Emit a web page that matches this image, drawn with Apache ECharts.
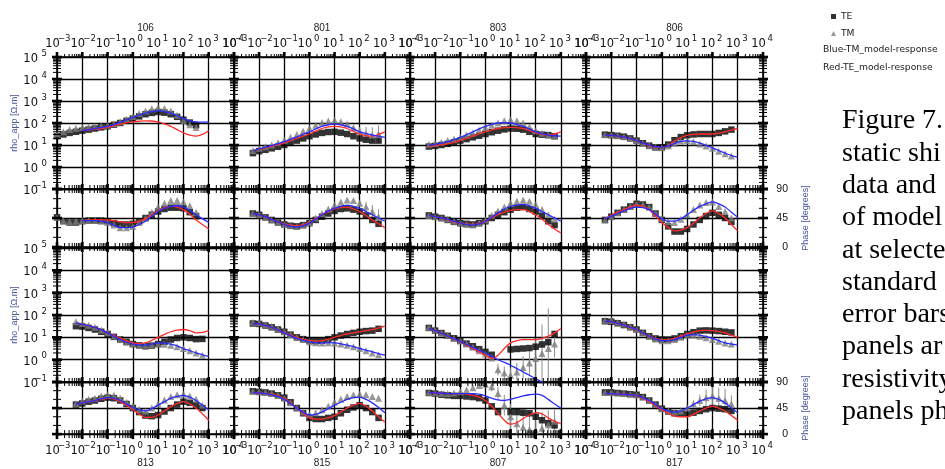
<!DOCTYPE html>
<html><head><meta charset="utf-8">
<script src="https://cdn.jsdelivr.net/npm/echarts@6/dist/echarts.min.js"></script>
<style>html,body{margin:0;padding:0;background:#fff}#c{width:945px;height:469px}</style>
</head><body><div id="c"></div>
<script>
// ---- period grids (log10 of period in s) ----
const PER_106 = [-3,-2.75,-2.5,-2.25,-2,-1.75,-1.5,-1.25,-1,-0.75,-0.5,-0.25,0,0.25,0.5,0.75,1,1.25,1.5,1.75,2,2.25,2.5];
const PER = [-2.25,-2,-1.75,-1.5,-1.25,-1,-0.75,-0.5,-0.25,0,0.25,0.5,0.75,1,1.25,1.5,1.75,2,2.25,2.5,2.75];
const MOD_106 = [-2,-1.75,-1.5,-1.25,-1,-0.75,-0.5,-0.25,0,0.25,0.5,0.75,1,1.25,1.5,1.75,2,2.25,2.5,2.75,3];
const MOD = [-2.25,-2,-1.75,-1.5,-1.25,-1,-0.75,-0.5,-0.25,0,0.25,0.5,0.75,1,1.25,1.5,1.75,2,2.25,2.5,2.75,3];

const stationsTop = ['106','801','803','806'];
const stationsBottom = ['813','815','807','817'];
const xTickValues = [-3,-2,-1,0,1,2,3,4];      // 10^n period labels
const rhoTickValues = [-1,0,1,2,3,4,5];        // 10^n ohm.m labels
const phaseTickValues = [0,45,90];
const captionLines = ['Figure 7.','static shi','data and','of model','at selecte','standard','error bars','panels ar','resistivity','panels ph'];

// ---- station 106 (log10 rho, phase deg) ----
const rhoTE_106 = [1.40,1.48,1.55,1.60,1.65,1.70,1.75,1.80,1.85,1.92,2.00,2.10,2.20,2.30,2.40,2.46,2.50,2.47,2.40,2.28,2.15,2.02,1.90];
const rhoTM_106 = [1.50,1.60,1.70,1.76,1.80,1.83,1.85,1.87,1.90,1.96,2.05,2.17,2.30,2.43,2.55,2.65,2.70,2.66,2.55,2.35,2.10,1.92,1.80];
const phTE_106 = [46,40,38,38,40,41,41,41,40,37,35,35,36,40,45,50,55,59,61,61,60,54,48];
const phTM_106 = [46,41,39,40,41,41,41,40,38,34,30,30,32,38,45,54,62,68,72,72,70,64,54];
const blueRho_106 = [1.65,1.70,1.75,1.80,1.85,1.93,2.03,2.14,2.25,2.36,2.45,2.52,2.55,2.52,2.45,2.33,2.20,2.10,2.05,2.04,2.05];
const redRho_106 = [1.65,1.69,1.72,1.76,1.80,1.88,1.95,2.01,2.05,2.08,2.10,2.09,2.05,1.96,1.85,1.70,1.55,1.45,1.40,1.48,1.65];
const bluePh_106 = [41,41,41,40,38,34,30,30,31,35,40,48,55,60,63,64,62,57,50,44,38];
const redPh_106 = [41,42,42,42,42,41,39,38,38,40,44,50,56,61,63,62,58,51,42,35,28];

// ---- station 801 ----
const rhoTE_801 = [0.63,0.72,0.78,0.85,0.92,1.00,1.10,1.20,1.30,1.40,1.48,1.55,1.59,1.60,1.56,1.50,1.40,1.30,1.24,1.20,1.20];
const rhoTM_801 = [0.75,0.85,0.92,1.00,1.10,1.22,1.35,1.48,1.62,1.76,1.90,2.02,2.09,2.12,2.06,1.95,1.78,1.62,1.52,1.46,1.50];
const errRhoTM_801 = [0,0,0,0,0,0,0,0,0,0,0,0,0,0,0,0,0.1,0.2,0.3,0.35,0.4];
const phTE_801 = [52,50,46,42,38,35,33,32,34,37,42,47,52,56,59,60,58,55,49,42,36];
const phTM_801 = [52,50,46,42,38,35,33,32,34,38,45,52,59,65,70,73,72,68,62,55,47];
const errPhTM_801 = [0,0,0,0,0,0,0,0,0,0,0,0,0,0,0,0,0,4,8,10,12];
const blueRho_801 = [0.74,0.82,0.90,0.98,1.06,1.15,1.26,1.37,1.49,1.60,1.73,1.85,1.92,1.95,1.92,1.85,1.73,1.60,1.52,1.45,1.40,1.35];
const redRho_801 = [0.74,0.80,0.87,0.95,1.02,1.10,1.20,1.30,1.40,1.50,1.63,1.75,1.82,1.85,1.82,1.75,1.62,1.50,1.43,1.40,1.48,1.60];
const bluePh_801 = [52,50,47,43,39,35,32,31,33,37,43,50,56,60,63,65,63,60,55,50,45,40];
const redPh_801 = [52,50,47,43,39,36,34,33,35,38,44,50,55,59,61,62,59,55,49,42,36,30];

// ---- station 803 ----
const rhoTE_803 = [0.93,0.96,1.00,1.05,1.12,1.20,1.27,1.35,1.42,1.50,1.58,1.65,1.71,1.75,1.74,1.70,1.60,1.50,1.47,1.45,1.40];
const rhoTM_803 = [1.03,1.07,1.13,1.20,1.27,1.35,1.45,1.55,1.67,1.80,1.90,2.00,2.10,2.15,2.10,2.00,1.83,1.65,1.53,1.45,1.40];
const phTE_803 = [49,47,45,42,39,37,36,35,37,40,45,50,54,58,61,62,59,55,48,40,34];
const phTM_803 = [49,47,45,43,40,37,35,34,37,42,49,56,62,68,71,73,71,66,58,50,43];
const blueRho_803 = [0.98,1.03,1.09,1.15,1.25,1.35,1.47,1.60,1.73,1.85,1.94,2.00,2.02,2.00,1.94,1.85,1.73,1.60,1.52,1.45,1.42,1.40];
const redRho_803 = [0.93,0.97,1.01,1.05,1.12,1.20,1.30,1.40,1.50,1.60,1.68,1.75,1.79,1.80,1.79,1.75,1.66,1.55,1.49,1.45,1.50,1.60];
const bluePh_803 = [49,47,45,43,40,37,35,34,36,40,46,53,59,63,65,66,64,60,55,50,45,40];
const redPh_803 = [49,47,45,42,39,37,36,35,37,40,45,50,54,57,58,58,55,50,43,35,28,22];

// ---- station 806 ----
const rhoTE_806 = [1.47,1.45,1.42,1.38,1.30,1.20,1.08,0.97,0.89,0.90,1.02,1.22,1.36,1.44,1.48,1.50,1.50,1.50,1.55,1.62,1.70];
const rhoTM_806 = [1.47,1.45,1.42,1.38,1.30,1.20,1.08,0.97,0.90,0.88,0.95,1.08,1.18,1.20,1.15,1.05,0.95,0.85,0.72,0.60,0.50];
const phTE_806 = [42,47,53,58,63,67,66,62,52,42,32,24,24,28,35,42,48,53,50,45,39];
const phTM_806 = [42,47,53,58,63,67,66,62,53,44,39,38,43,50,58,65,69,70,63,55,45];
const blueRho_806 = [1.45,1.44,1.41,1.37,1.30,1.20,1.09,0.99,0.92,0.90,0.96,1.07,1.16,1.19,1.16,1.08,0.98,0.87,0.75,0.63,0.52,0.45];
const redRho_806 = [1.45,1.44,1.41,1.37,1.30,1.20,1.08,0.97,0.90,0.89,0.98,1.18,1.34,1.44,1.48,1.50,1.50,1.50,1.54,1.60,1.68,1.75];
const bluePh_806 = [44,48,52,56,60,62,61,58,51,44,40,40,44,50,57,63,67,70,67,62,54,46];
const redPh_806 = [44,49,54,58,62,65,63,58,48,38,30,25,26,30,37,45,52,56,52,45,35,25];

// ---- station 813 ----
const rhoTE_813 = [1.50,1.48,1.42,1.35,1.25,1.15,1.02,0.90,0.80,0.70,0.64,0.60,0.63,0.70,0.80,0.90,0.97,1.00,0.97,0.92,0.93];
const rhoTM_813 = [1.70,1.62,1.54,1.45,1.33,1.20,1.05,0.90,0.78,0.70,0.66,0.65,0.67,0.70,0.69,0.65,0.58,0.50,0.40,0.30,0.20];
const phTE_813 = [51,53,56,58,61,63,62,58,52,45,38,32,31,33,39,45,51,56,54,50,45];
const phTM_813 = [53,57,60,62,66,68,67,62,55,48,43,40,45,52,59,65,68,69,66,60,50];
const blueRho_813 = [1.66,1.58,1.52,1.45,1.33,1.20,1.05,0.90,0.78,0.70,0.66,0.65,0.70,0.75,0.74,0.70,0.62,0.50,0.40,0.30,0.22,0.15];
const redRho_813 = [1.66,1.58,1.52,1.45,1.33,1.20,1.08,0.95,0.84,0.75,0.72,0.75,0.86,1.00,1.13,1.25,1.32,1.35,1.30,1.20,1.22,1.30];
const bluePh_813 = [52,54,56,58,61,63,62,58,52,46,42,40,44,50,56,62,65,67,64,58,50,42];
const redPh_813 = [52,54,56,58,60,62,61,56,50,42,35,29,29,33,40,47,53,56,52,45,35,24];

// ---- station 815 ----
const rhoTE_815 = [1.62,1.60,1.53,1.45,1.35,1.25,1.12,1.00,0.92,0.85,0.83,0.85,0.92,1.00,1.08,1.15,1.20,1.25,1.28,1.30,1.38];
const rhoTM_815 = [1.67,1.65,1.58,1.50,1.38,1.25,1.12,1.00,0.90,0.80,0.76,0.75,0.76,0.75,0.70,0.65,0.58,0.50,0.40,0.30,0.22];
const phTE_815 = [74,73,72,70,67,63,55,45,36,28,26,26,28,30,36,42,46,50,45,38,28];
const phTM_815 = [74,73,72,70,67,62,54,45,38,34,37,42,48,55,60,65,68,69,68,65,62];
const blueRho_815 = [1.62,1.60,1.53,1.45,1.33,1.20,1.07,0.95,0.87,0.80,0.76,0.75,0.76,0.75,0.71,0.65,0.58,0.50,0.43,0.35,0.27,0.20];
const redRho_815 = [1.62,1.60,1.53,1.45,1.34,1.22,1.11,1.00,0.92,0.85,0.83,0.85,0.92,1.00,1.08,1.15,1.20,1.25,1.30,1.35,1.42,1.50];
const bluePh_815 = [72,71,70,68,65,60,53,45,38,33,34,38,44,50,55,60,63,64,60,54,46,37];
const redPh_815 = [72,71,70,69,66,62,54,45,36,28,26,26,28,32,38,45,50,53,48,40,30,21];

// ---- station 807 ----
const rhoTE_807 = [1.42,1.30,1.19,1.07,0.96,0.85,0.72,0.60,0.47,0.35,0.22,null,null,0.46,0.48,0.50,0.52,0.58,0.68,0.78,1.15];
const rhoTM_807 = [1.45,1.32,1.20,1.08,0.96,0.84,0.70,0.56,0.40,0.25,0.08,-0.45,-0.60,-0.70,-0.55,-0.35,-0.15,0.05,0.28,0.50,0.70];
const errRhoTM_807 = [0,0,0,0,0,0,0,0,0,0,0,0.25,0.3,0.35,0.4,0.5,0.6,0.9,1.3,1.8,0.6];
const phTE_807 = [71,70,68,67,66,66,65,64,62,58,48,38,null,38,38,37,36,30,24,19,15];
const phTM_807 = [72,71,70,70,71,73,76,80,84,86,82,70,50,30,18,12,8,6,10,16,22];
const errPhTM_807 = [0,0,0,0,0,0,0,0,0,0,8,12,18,22,25,28,30,30,28,25,20];
const blueRho_807 = [1.40,1.30,1.18,1.06,0.94,0.82,0.68,0.55,0.42,0.30,0.15,0.00,-0.12,-0.25,-0.40,-0.55,-0.70,-0.85,-1.00,-1.15,-1.30,-1.45];
const redRho_807 = [1.40,1.30,1.18,1.05,0.92,0.80,0.65,0.50,0.35,0.20,0.05,0.20,0.50,0.75,0.85,0.90,0.90,0.90,0.95,1.05,1.20,1.40];
const bluePh_807 = [72,71,71,70,70,70,70,70,69,66,62,59,58,60,63,66,68,69,67,60,52,45];
const redPh_807 = [72,71,71,70,70,70,69,67,64,58,48,36,24,17,20,27,33,37,35,28,22,18];

// ---- station 817 ----
const rhoTE_817 = [1.72,1.70,1.63,1.55,1.45,1.35,1.20,1.05,0.95,0.90,0.90,0.95,1.05,1.15,1.23,1.30,1.31,1.30,1.28,1.25,1.22];
const rhoTM_817 = [1.77,1.75,1.68,1.60,1.48,1.35,1.20,1.05,0.93,0.85,0.85,0.90,1.00,1.10,1.10,1.05,0.98,0.90,0.82,0.75,0.70];
const phTE_817 = [72,72,71,70,69,68,64,58,51,44,39,36,35,35,37,40,43,45,44,43,40];
const phTM_817 = [72,72,71,70,69,68,64,58,51,44,40,38,40,45,52,58,63,66,62,58,52];
const errPhTM_817 = [0,0,0,0,0,0,0,0,0,0,0,0,0,0,6,10,14,16,18,20,15];
const blueRho_817 = [1.72,1.70,1.63,1.55,1.45,1.35,1.20,1.05,0.93,0.85,0.85,0.90,1.00,1.10,1.12,1.10,1.03,0.95,0.85,0.75,0.70,0.65];
const redRho_817 = [1.72,1.70,1.63,1.55,1.44,1.33,1.19,1.05,0.95,0.88,0.89,0.95,1.05,1.15,1.24,1.30,1.31,1.30,1.26,1.20,1.10,1.00];
const bluePh_817 = [70,70,69,69,68,67,63,58,51,44,40,38,40,45,51,57,61,63,60,54,45,37];
const redPh_817 = [70,70,69,69,68,66,62,56,49,42,36,31,30,30,34,40,45,48,45,40,32,24];

// ---- table for the library ----
const stations = [
  {row:0,col:0,per:PER_106,mod:MOD_106,rTE:rhoTE_106,rTM:rhoTM_106,rB:blueRho_106,rR:redRho_106,pTE:phTE_106,pTM:phTM_106,pB:bluePh_106,pR:redPh_106},
  {row:0,col:1,per:PER,mod:MOD,rTE:rhoTE_801,rTM:rhoTM_801,rB:blueRho_801,rR:redRho_801,pTE:phTE_801,pTM:phTM_801,pB:bluePh_801,pR:redPh_801,eR:errRhoTM_801,eP:errPhTM_801},
  {row:0,col:2,per:PER,mod:MOD,rTE:rhoTE_803,rTM:rhoTM_803,rB:blueRho_803,rR:redRho_803,pTE:phTE_803,pTM:phTM_803,pB:bluePh_803,pR:redPh_803},
  {row:0,col:3,per:PER,mod:MOD,rTE:rhoTE_806,rTM:rhoTM_806,rB:blueRho_806,rR:redRho_806,pTE:phTE_806,pTM:phTM_806,pB:bluePh_806,pR:redPh_806},
  {row:1,col:0,per:PER,mod:MOD,rTE:rhoTE_813,rTM:rhoTM_813,rB:blueRho_813,rR:redRho_813,pTE:phTE_813,pTM:phTM_813,pB:bluePh_813,pR:redPh_813},
  {row:1,col:1,per:PER,mod:MOD,rTE:rhoTE_815,rTM:rhoTM_815,rB:blueRho_815,rR:redRho_815,pTE:phTE_815,pTM:phTM_815,pB:bluePh_815,pR:redPh_815},
  {row:1,col:2,per:PER,mod:MOD,rTE:rhoTE_807,rTM:rhoTM_807,rB:blueRho_807,rR:redRho_807,pTE:phTE_807,pTM:phTM_807,pB:bluePh_807,pR:redPh_807,eR:errRhoTM_807,eP:errPhTM_807},
  {row:1,col:3,per:PER,mod:MOD,rTE:rhoTE_817,rTM:rhoTM_817,rB:blueRho_817,rR:redRho_817,pTE:phTE_817,pTM:phTM_817,pB:bluePh_817,pR:redPh_817,eP:errPhTM_817}
];

// ---- layout ----
const colLeft = [57, 234, 410, 586];
const colWidth = [177, 176, 176, 177];
const rowsDef = [
  {top:57, h:132, kind:'rho'},
  {top:189, h:58, kind:'ph'},
  {top:248, h:134, kind:'rho'},
  {top:382, h:56, kind:'ph'}
];
const DEJ = 'DejaVu Sans', SANS = 'Liberation Sans';
const titleColor = '#46569a';
function sup(v){ v = Math.round(v); return '{b|10}{s|' + (v < 0 ? '\u2212' + (-v) : String(v)) + '}'; }
// explicit token widths keep the label boxes narrower than one decade so none is dropped
const supRich = {
  b:{fontFamily:DEJ, fontSize:11.5, color:'#111', lineHeight:16, verticalAlign:'bottom', width:14.5},
  s:{fontFamily:DEJ, fontSize:8.5, color:'#111', lineHeight:8, verticalAlign:'top', width:9}
};

// log-scale tick positions (axis decoration)
const xMajor = xTickValues.slice();
const xMinor = []; for (let d = -3; d < 4; d++) for (let k = 2; k <= 9; k++) xMinor.push(d + Math.log10(k));
const rMajor = rhoTickValues.slice();
const rMinor = []; for (let d = -1; d < 5; d++) for (let k = 2; k <= 9; k++) rMinor.push(d + Math.log10(k));
const pMajor = phaseTickValues.slice();
const pMinor = [15,30,60,75];

const grids = [], xAxes = [], yAxes = [], series = [];
rowsDef.forEach((R, r) => {
  colLeft.forEach((L, c) => {
    const g = r * 4 + c;
    grids.push({left:L, top:R.top, width:colWidth[c], height:R.h, show:true, borderColor:'#000', borderWidth:1.6, backgroundColor:'transparent', containLabel:false});
    const showX = (r === 0 || r === 3);
    xAxes.push({
      gridIndex:g, type:'value', min:-3, max:4, interval:1,
      position: (R.kind === 'rho') ? 'top' : 'bottom',
      axisLine:{show:false}, axisTick:{show:false},
      splitLine:{show:true, lineStyle:{color:'#000', width:1.3}},
      axisLabel:{show:showX, interval:0, formatter:sup, rich:supRich, margin:7, showMinLabel:true, showMaxLabel:true, hideOverlap:false},
      name: r === 0 ? stationsTop[c] : (r === 3 ? stationsBottom[c] : ''),
      nameLocation:'middle', nameGap: r === 0 ? 22 : 21,
      nameTextStyle:{fontFamily:SANS, fontSize:10, color:'#222'}
    });
    if (R.kind === 'rho') {
      yAxes.push({
        gridIndex:g, type:'value', min:-1, max:5, interval:1, position:'left',
        axisLine:{show:false}, axisTick:{show:false},
        splitLine:{show:true, lineStyle:{color:'#000', width:1.3}},
        axisLabel:{show:c === 0, interval:0, formatter:sup, rich:supRich, margin:10, showMinLabel:true, showMaxLabel:true, hideOverlap:false},
        name: c === 0 ? 'rho_app [\u03A9.m]' : '', nameLocation:'middle', nameRotate:90, nameGap:38,
        nameTextStyle:{fontFamily:SANS, fontSize:9, color:titleColor}
      });
    } else {
      yAxes.push({
        gridIndex:g, type:'value', min:0, max:90, interval:45, position: c === 3 ? 'right' : 'left',
        axisLine:{show:false}, axisTick:{show:false},
        splitLine:{show:true, lineStyle:{color:'#000', width:1.3}},
        axisLabel:{show:c === 3, interval:0, align:'right', margin:25, fontFamily:SANS, fontSize:10.5, color:'#111', showMinLabel:true, showMaxLabel:true, hideOverlap:false},
        name: c === 3 ? 'Phase [degrees]' : '', nameLocation:'middle', nameRotate:90, nameGap:38,
        nameTextStyle:{fontFamily:SANS, fontSize:9, color:titleColor}
      });
    }
    // tick marks series: [edgeCode, value, major]
    // edge codes: 0 top both, 1 bottom both, 2 left both, 3 right both, 4 top outward
    const items = [];
    const yMaj = R.kind === 'rho' ? rMajor : pMajor, yMin = R.kind === 'rho' ? rMinor : pMinor;
    const addX = (code) => { xMajor.forEach(v => items.push([code, v, 1])); xMinor.forEach(v => items.push([code, v, 0])); };
    const addY = (code) => { yMaj.forEach(v => items.push([code, v, 1])); yMin.forEach(v => items.push([code, v, 0])); };
    if (r === 0) addX(4);
    if (R.kind === 'ph') { addX(0); addX(1); }
    addY(2);
    if (c === 3) addY(3);
    const yLo = R.kind === 'rho' ? -1 : 0, yHi = R.kind === 'rho' ? 5 : 90;
    series.push({
      type:'custom', name:'ticks', xAxisIndex:g, yAxisIndex:g, silent:true, z:6, clip:false,
      data: items,
      renderItem: function (params, api) {
        const code = api.value(0), v = api.value(1), major = api.value(2);
        const Lb = major ? 5 : 4;
        let p, shape;
        if (code === 0 || code === 4) { p = api.coord([v, yHi]); }
        else if (code === 1) { p = api.coord([v, yLo]); }
        else if (code === 2) { p = api.coord([-3, v]); }
        else { p = api.coord([4, v]); }
        if (code === 4) shape = {x1:p[0], y1:p[1] - (major ? 5 : 3), x2:p[0], y2:p[1]};
        else if (code <= 1) shape = {x1:p[0], y1:p[1] - Lb, x2:p[0], y2:p[1] + Lb};
        else shape = {x1:p[0] - Lb, y1:p[1], x2:p[0] + Lb, y2:p[1]};
        return {type:'line', shape:shape, style:{stroke:'#000', lineWidth: major ? 2.6 : 1}};
      }
    });
  });
});

function pairs(per, vals){ const out = []; per.forEach((p, i) => { if (vals[i] !== null && vals[i] !== undefined) out.push([p, vals[i]]); }); return out; }
function errItems(per, vals, errs){ const out = []; per.forEach((p, i) => { if (errs[i] > 0 && vals[i] !== null) out.push([p, vals[i], errs[i]]); }); return out; }
const errRender = function (params, api) {
  const x = api.value(0), v = api.value(1), e = api.value(2);
  const a = api.coord([x, v + e]), b = api.coord([x, v - e]);
  return {type:'line', shape:{x1:a[0], y1:a[1], x2:b[0], y2:b[1]}, style:{stroke:'#8c8c8c', lineWidth:1}};
};

stations.forEach(st => {
  const gR = st.row * 8 + st.col, gP = gR + 4;
  [[gR, st.rTE, st.rTM, st.rB, st.rR, st.eR], [gP, st.pTE, st.pTM, st.pB, st.pR, st.eP]].forEach(([g, te, tm, bl, rd, er]) => {
    if (er) series.push({type:'custom', name:'TM error', xAxisIndex:g, yAxisIndex:g, silent:true, clip:true, z:2, data:errItems(st.per, tm, er), renderItem:errRender});
    series.push({type:'scatter', name:'TE', xAxisIndex:g, yAxisIndex:g, silent:true, clip:true, z:3,
      symbol:'rect', symbolSize:6.5, itemStyle:{color:'#000'}, data:pairs(st.per, te)});
    series.push({type:'scatter', name:'TM', xAxisIndex:g, yAxisIndex:g, silent:true, clip:true, z:3,
      symbol:'triangle', symbolSize:7, itemStyle:{color:'#7d7d7d'}, data:pairs(st.per, tm)});
    series.push({type:'line', name:'Red-TE_model-response', xAxisIndex:g, yAxisIndex:g, silent:true, clip:true, z:4,
      showSymbol:false, symbol:'none', smooth:0.35, lineStyle:{color:'#ff2a2a', width:1.3}, itemStyle:{color:'#ff2a2a'}, data:pairs(st.mod, rd)});
    series.push({type:'line', name:'Blue-TM_model-response', xAxisIndex:g, yAxisIndex:g, silent:true, clip:true, z:4,
      showSymbol:false, symbol:'none', smooth:0.35, lineStyle:{color:'#2a2aff', width:1.3}, itemStyle:{color:'#2a2aff'}, data:pairs(st.mod, bl)});
  });
});

const graphic = [
  {type:'text', x:823, y:50, silent:true, style:{text:'Blue-TM_model-response', fill:'#222', font:'9.2px "DejaVu Sans"', align:'left', verticalAlign:'middle'}},
  {type:'text', x:823, y:68, silent:true, style:{text:'Red-TE_model-response', fill:'#222', font:'9.2px "DejaVu Sans"', align:'left', verticalAlign:'middle'}}
];
captionLines.forEach((t, i) => {
  graphic.push({type:'text', x:842, y:121 + i * 32.3, silent:true, style:{text:t, fill:'#000', font:'28px "Liberation Serif"', align:'left', verticalAlign:'middle'}});
});

const chart = echarts.init(document.getElementById('c'), null, {renderer:'canvas'});
chart.setOption({
  animation:false,
  backgroundColor:'#fff',
  legend:{
    orient:'vertical', left:826, top:7, itemWidth:5, itemHeight:5, itemGap:8, selectedMode:false,
    textStyle:{fontFamily:DEJ, fontSize:9.2, color:'#222'},
    data:[{name:'TE', icon:'rect', itemStyle:{color:'#000'}}, {name:'TM', icon:'triangle', itemStyle:{color:'#7d7d7d'}}]
  },
  grid:grids, xAxis:xAxes, yAxis:yAxes, series:series, graphic:graphic
});
</script>
</body></html>
